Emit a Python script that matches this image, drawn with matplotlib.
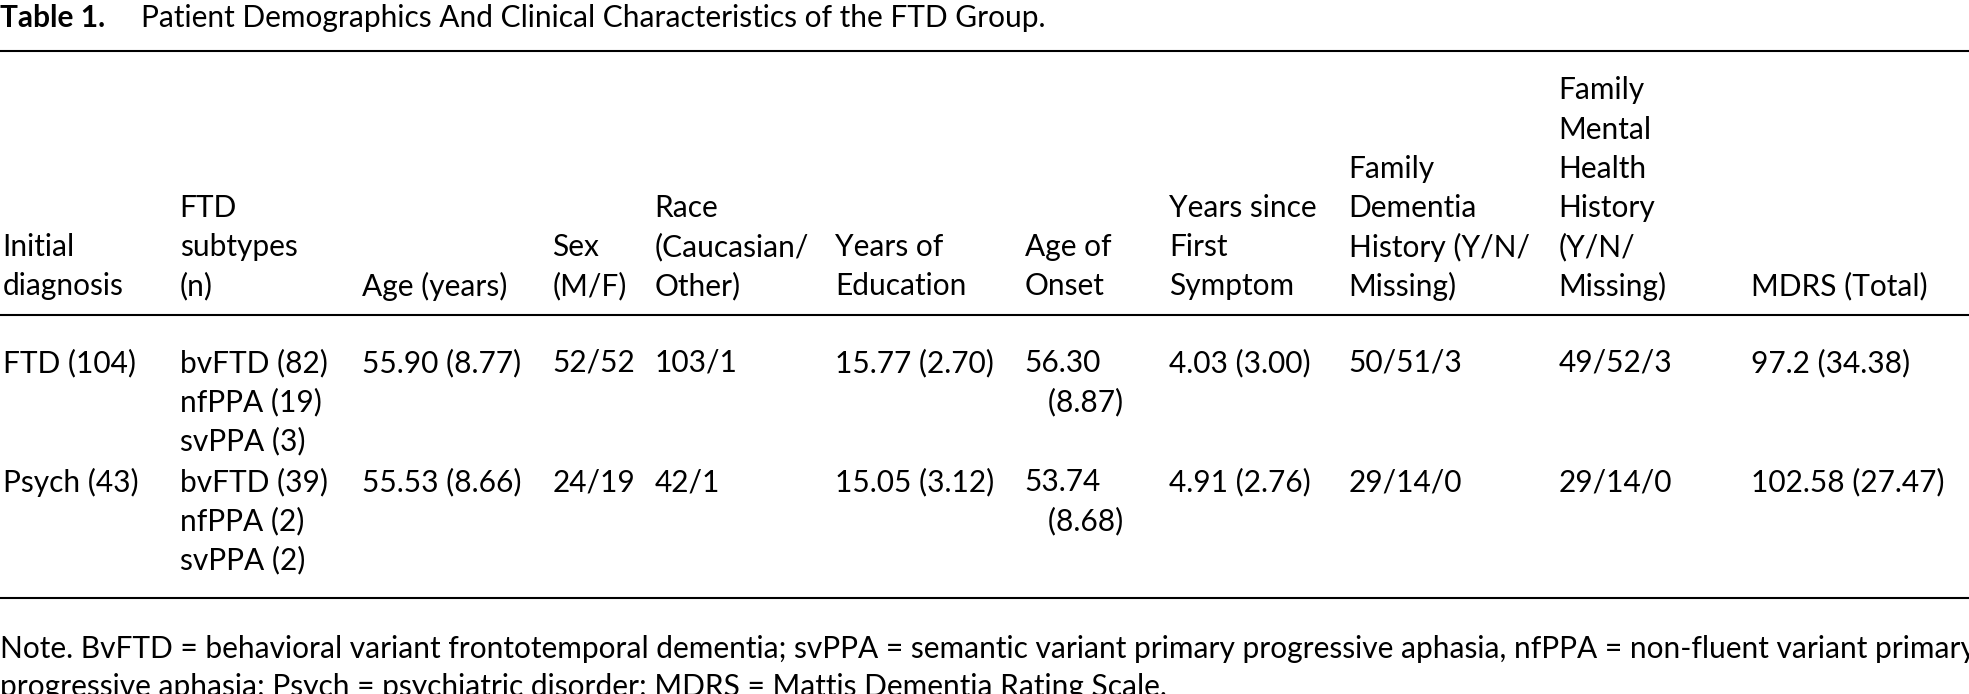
import matplotlib.pyplot as plt

plt.rcParams['font.family'] = ['Lato', 'DejaVu Sans']

title_bold = "Table 1."
title_rest = "Patient Demographics And Clinical Characteristics of the FTD Group."

headers = [
    ["Initial", "diagnosis"],
    ["FTD", "subtypes", "(n)"],
    ["Age (years)"],
    ["Sex", "(M/F)"],
    ["Race", "(Caucasian/", "Other)"],
    ["Years of", "Education"],
    ["Age of", "Onset"],
    ["Years since", "First", "Symptom"],
    ["Family", "Dementia", "History (Y/N/", "Missing)"],
    ["Family", "Mental", "Health", "History", "(Y/N/", "Missing)"],
    ["MDRS (Total)"],
]

rows = [
    [["FTD (104)"], ["bvFTD (82)", "nfPPA (19)", "svPPA (3)"], ["55.90 (8.77)"], ["52/52"],
     ["103/1"], ["15.77 (2.70)"], ["56.30", "   (8.87)"], ["4.03 (3.00)"], ["50/51/3"],
     ["49/52/3"], ["97.2 (34.38)"]],
    [["Psych (43)"], ["bvFTD (39)", "nfPPA (2)", "svPPA (2)"], ["55.53 (8.66)"], ["24/19"],
     ["42/1"], ["15.05 (3.12)"], ["53.74", "   (8.68)"], ["4.91 (2.76)"], ["29/14/0"],
     ["29/14/0"], ["102.58 (27.47)"]],
]

note = ["Note. BvFTD = behavioral variant frontotemporal dementia; svPPA = semantic variant primary progressive aphasia, nfPPA = non-fluent variant primary",
        "progressive aphasia; Psych = psychiatric disorder; MDRS = Mattis Dementia Rating Scale."]

# layout measured on a 1568-wide view of the reference
col_x = [2, 143, 288, 440, 521, 665, 816, 931, 1074, 1241, 1394]
line_h = 31.2
fs = 21.5

fig = plt.figure(figsize=(19.69, 6.94), dpi=100)
ax = fig.add_axes([0, 0, 1, 1])
ax.set_xlim(0, 1568)
ax.set_ylim(552.7, 0)
ax.axis('off')

ax.text(0, 14, title_bold, fontsize=fs, fontweight='bold', va='center')
ax.text(112, 14, title_rest, fontsize=fs, va='center')

for y in (41, 251, 476):
    ax.plot([0, 1568], [y, y], color='black', lw=1.5)

# headers, bottom aligned
for x, lines in zip(col_x, headers):
    for i, s in enumerate(reversed(lines)):
        ax.text(x, 228 - i * line_h, s, fontsize=fs, va='center')

for y0, row in zip((289, 384), rows):
    for x, lines in zip(col_x, row):
        for i, s in enumerate(lines):
            ax.text(x, y0 + i * line_h, s, fontsize=fs, va='center')

for i, s in enumerate(note):
    ax.text(0, 517 + i * 30, s, fontsize=fs, va='center')

fig.savefig('out.png', dpi=100)
